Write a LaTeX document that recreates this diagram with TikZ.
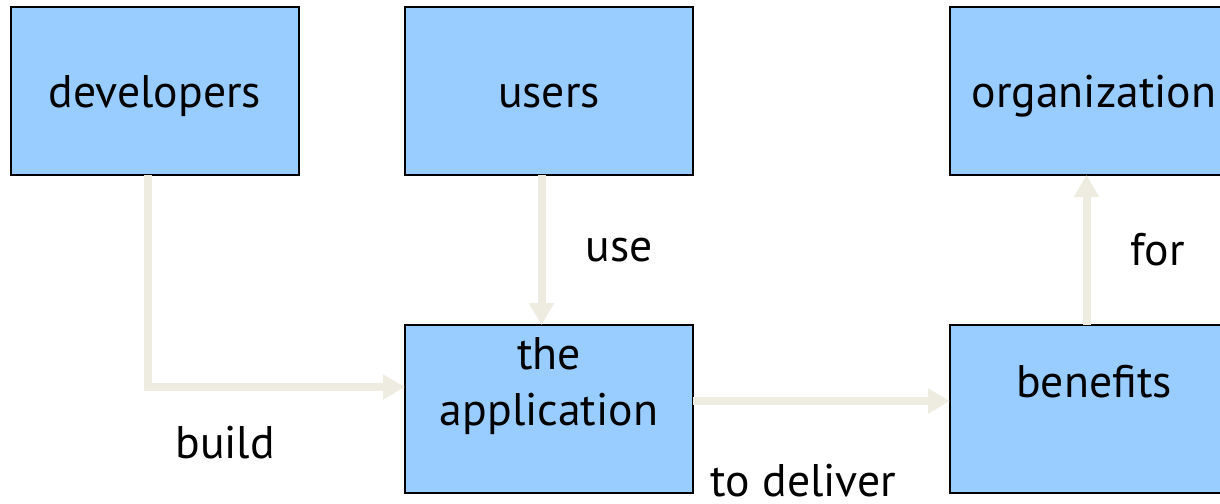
\documentclass[tikz,border=0pt]{standalone}
\usepackage{fontspec}
\setmainfont{PT Sans}
\usepackage{xcolor}
\usepackage{tikz}
\usetikzlibrary{positioning,arrows.meta}

\definecolor{boxblue}{HTML}{99CCFF}
\definecolor{flowtan}{HTML}{EEECE1}

\begin{document}
\begin{tikzpicture}[
    node distance=3.0cm and 2.12cm,
    font=\fontsize{26}{31.7}\selectfont,
    role_box/.style={draw=black, fill=boxblue, line width=1pt, minimum width=5.76cm, minimum height=3.36cm, inner sep=0pt, outer sep=0pt, align=center, text depth=0pt},
    top_box/.style={role_box, text height=18.7pt},
    flow/.style={-{Triangle[width=0.48cm,length=0.44cm]}, line width=0.16cm, draw=flowtan},
    flow_label/.style={text=black, inner sep=0pt}
]

\useasboundingbox (0,0) rectangle (24.4,-10.06);

\node (dev)  [top_box] at (3.1,-1.82) {developers};
\node (usr)  [top_box, right=2.12cm of dev] {users};
\node (org)  [top_box, right=5.14cm of usr] {organization};
\node (app)  [role_box, below=3.0cm of usr] {the\\application\\\mbox{}};
\node (ben)  [role_box, below=3.0cm of org] {benefits\\\mbox{}};

\draw [flow] ([xshift=-0.14cm]dev.south) |- node[flow_label, pos=0.65, below=0.71cm] {build} ([yshift=0.44cm]app.west);
\draw [flow] ([xshift=-0.15cm]usr.south) -- node[flow_label, right=0.8cm] {use} ([xshift=-0.15cm]app.north);
\draw [flow] ([yshift=0.16cm]app.east)   -- node[flow_label, pos=0.43, below=1.18cm] {to deliver} ([yshift=0.16cm]ben.west);
\draw [flow] ([xshift=-0.15cm]ben.north) -- node[flow_label, right=0.8cm] {for} ([xshift=-0.15cm]org.south);

\end{tikzpicture}
\end{document}
